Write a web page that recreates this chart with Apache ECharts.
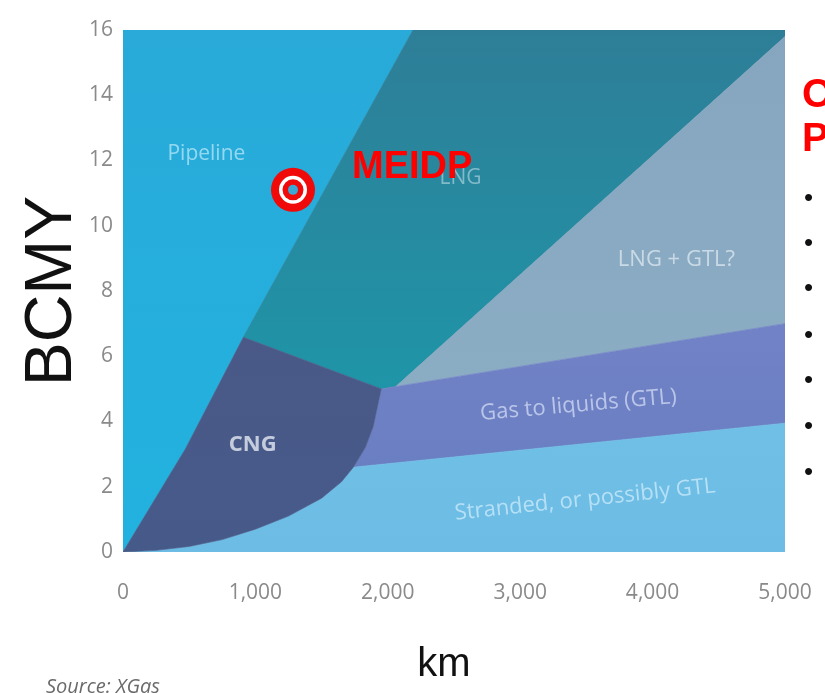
<!DOCTYPE html>
<html>
<head>
<meta charset="utf-8">
<title>Gas transport options by distance and volume</title>
<script src="https://cdn.jsdelivr.net/npm/echarts@6/dist/echarts.min.js"></script>
<style>
  html, body { margin: 0; padding: 0; background: #ffffff; }
  #chart { width: 825px; height: 693px; }
</style>
</head>
<body>
<div id="chart"></div>
<script>
// Distance axis (km) and volume axis (BCMY)
const xTickValues = [0, 1000, 2000, 3000, 4000, 5000];
const yTickValues = [0, 2, 4, 6, 8, 10, 12, 14, 16];

// Region outlines as [km, BCMY] vertices
const pipelineRegion = [[0, 0], [0, 16], [2190, 16], [909, 6.58], [470, 3.15]];
const lngRegion = [[909, 6.58], [2190, 16], [5000, 16], [5000, 15.8], [2060, 5.07], [1950, 5.0]];
const lngGtlRegion = [[2060, 5.07], [5000, 7.0], [5000, 15.8]];
const gtlRegion = [[1740, 2.6], [5000, 3.95], [5000, 7.0], [1950, 5.0], [1890, 3.85], [1830, 3.2]];
const strandedRegion = [[0, 0], [5000, 0], [5000, 3.95], [1740, 2.6], [1650, 2.15], [1500, 1.65],
  [1250, 1.1], [1000, 0.7], [750, 0.38], [500, 0.17], [250, 0.05]];
const cngRegion = [[0, 0], [470, 3.15], [909, 6.58], [1950, 5.0], [1890, 3.85], [1830, 3.2],
  [1740, 2.6], [1650, 2.15], [1500, 1.65], [1250, 1.1], [1000, 0.7], [750, 0.38], [500, 0.17], [250, 0.05]];

const regionNames = ['Pipeline', 'LNG', 'LNG + GTL?', 'Gas to liquids (GTL)', 'Stranded, or possibly GTL', 'CNG'];
const regionShapes = [pipelineRegion, lngRegion, lngGtlRegion, gtlRegion, strandedRegion, cngRegion];
// Anchor point of each region's caption, [km, BCMY]
const regionLabelAnchors = [[630, 12.2], [2550, 11.45], [4180, 8.95], [3440, 4.5], [3490, 1.6], [980, 3.3]];

// Project location
const projectName = 'MEIDP';
const projectPoint = [1284, 11.1];

const regionColors = [
  { top: '#29aad9', bottom: '#22b2df' },
  { top: '#2e7e97', bottom: '#1f95a8' },
  { top: '#86a6bf', bottom: '#8badc4' },
  { top: '#7282c6', bottom: '#6a7fc2' },
  { top: '#6fbfe6', bottom: '#6cbce5' },
  { top: '#4a5987', bottom: '#465a8a' }
];
const captionStyles = [
  { color: 'rgba(200,238,250,0.85)', fontSize: 21, fontWeight: 'normal', rotate: 0 },
  { color: 'rgba(190,220,230,0.75)', fontSize: 21, fontWeight: 'normal', rotate: 0 },
  { color: 'rgba(232,240,246,0.85)', fontSize: 22, fontWeight: 'normal', rotate: 0 },
  { color: 'rgba(222,228,250,0.85)', fontSize: 22, fontWeight: 'normal', rotate: 5 },
  { color: 'rgba(215,240,252,0.85)', fontSize: 22, fontWeight: 'normal', rotate: 6 },
  { color: 'rgba(236,240,248,0.95)', fontSize: 22, fontWeight: 'bold', rotate: 0 }
];

const chart = echarts.init(document.getElementById('chart'), null, { renderer: 'canvas' });

function fmtThousands(v) {
  return String(v).replace(/\B(?=(\d{3})+(?!\d))/g, ',');
}

const bulletYs = [200, 245, 290, 337, 382, 428, 474];

function markerDisc(name, size, color, z) {
  return {
    type: 'scatter', name: name, silent: true, symbol: 'circle', symbolSize: size,
    itemStyle: { color: color, opacity: 1 }, data: [projectPoint], z: z
  };
}

const outerDisc = markerDisc('marker-outer', 44, '#f00a0a', 4);
outerDisc.label = {
  show: true,
  position: 'right',
  distance: 37,
  offset: [0, -22],
  formatter: projectName,
  fontFamily: 'Liberation Sans',
  fontWeight: 'bold',
  fontSize: 38,
  color: '#ff0000',
  opacity: 1
};

const option = {
  animation: false,
  backgroundColor: '#ffffff',
  grid: { left: 123, right: 40, top: 30, bottom: 141, containLabel: false },
  xAxis: {
    type: 'value',
    min: xTickValues[0],
    max: xTickValues[xTickValues.length - 1],
    interval: 1000,
    name: 'km',
    nameLocation: 'middle',
    nameGap: 93,
    nameTextStyle: { fontFamily: 'Liberation Sans', fontSize: 40, color: '#111111', padding: [0, 20, 0, 0] },
    axisLine: { show: false },
    axisTick: { show: false },
    splitLine: { show: false },
    axisLabel: {
      margin: 31,
      fontFamily: 'Open Sans',
      fontSize: 21,
      color: '#8a8a8a',
      formatter: (v) => fmtThousands(v)
    }
  },
  yAxis: {
    type: 'value',
    min: yTickValues[0],
    max: yTickValues[yTickValues.length - 1],
    interval: 2,
    name: 'BCMY',
    nameLocation: 'middle',
    nameRotate: 90,
    nameGap: 37,
    nameMoveOverlap: false,
    nameTextStyle: { fontFamily: 'Liberation Sans', fontSize: 66, color: '#111111' },
    axisLine: { show: false },
    axisTick: { show: false },
    splitLine: { show: false },
    axisLabel: {
      margin: 10,
      fontFamily: 'Open Sans',
      fontSize: 21,
      color: '#8a8a8a'
    }
  },
  series: [
    {
      type: 'custom',
      name: 'regions',
      silent: true,
      clip: true,
      data: regionShapes.map((_, i) => [i]),
      renderItem: (params, api) => {
        const idx = api.value(0);
        const pts = regionShapes[idx].map((p) => api.coord(p));
        const c = regionColors[idx];
        return {
          type: 'polygon',
          shape: { points: pts },
          style: {
            fill: new echarts.graphic.LinearGradient(0, 0, 0, 1, [
              { offset: 0, color: c.top },
              { offset: 1, color: c.bottom }
            ]),
            stroke: c.top,
            lineWidth: 0.6
          }
        };
      },
      z: 1
    },
    {
      type: 'scatter',
      name: 'captions',
      silent: true,
      symbolSize: 0,
      data: regionNames.map((n, i) => ({
        value: regionLabelAnchors[i],
        name: n,
        label: {
          show: true,
          position: 'inside',
          formatter: n,
          fontFamily: 'Open Sans',
          color: captionStyles[i].color,
          fontSize: captionStyles[i].fontSize,
          fontWeight: captionStyles[i].fontWeight,
          rotate: captionStyles[i].rotate
        }
      })),
      z: 3
    },
    // target marker: stacked discs
    outerDisc,
    markerDisc('marker-ring', 28, '#ffffff', 5),
    markerDisc('marker-inner', 21, '#f00a0a', 6),
    markerDisc('marker-core', 10, '#3aa9d6', 7)
  ],
  graphic: [
    { type: 'text', left: 802, top: 76, style: { text: 'O', font: 'bold 40px "Liberation Sans"', fill: '#ff0000' } },
    { type: 'text', left: 802, top: 120, style: { text: 'P', font: 'bold 40px "Liberation Sans"', fill: '#ff0000' } },
    ...bulletYs.map((y) => ({
      type: 'text', left: 804, top: y - 14, style: { text: '\u2022', font: '26px "Liberation Sans"', fill: '#111111' }
    })),
    { type: 'text', left: 46, top: 677, style: { text: 'Source: XGas', font: 'italic 20px "Open Sans"', fill: '#6a6a6a' } }
  ]
};

chart.setOption(option);
</script>
</body>
</html>
